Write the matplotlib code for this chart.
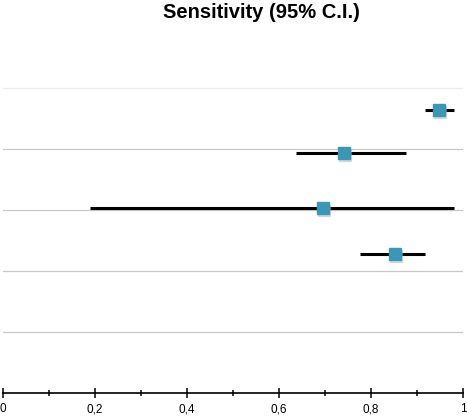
import numpy as np
import matplotlib.pyplot as plt
from matplotlib.ticker import FixedLocator, MultipleLocator

# sensitivity estimates with 95% confidence interval
sens = [0.948, 0.742, 0.695, 0.852]
ci_low = [0.918, 0.637, 0.189, 0.775]
ci_high = [0.980, 0.877, 0.981, 0.917]
row_y = [4.64, 3.93, 3.03, 2.28]
grid_y = [1, 2, 3, 4, 5]
ticks = [0, 0.2, 0.4, 0.6, 0.8, 1.0]
tick_labels = ["0", "0,2", "0,4", "0,6", "0,8", "1"]

plt.rcParams['font.family'] = ['Liberation Sans', 'DejaVu Sans']

fig = plt.figure(figsize=(4.67, 4.18), dpi=100)
ax = fig.add_axes([3 / 467, 25 / 418, 460 / 467, 348 / 418])

for g in grid_y:
    c = '#ececec' if g == 5 else '#c8c8c8'
    ax.axhline(g, color=c, lw=0.9, zorder=1)

sens = np.array(sens)
ax.hlines(row_y, ci_low, ci_high, color='black', lw=2.2, zorder=2)
# faint shadow under the markers
ax.plot(sens + 0.002, np.array(row_y) - 0.03, 's', ms=8.5, color='#b0b0b0',
        alpha=0.4, zorder=3, linestyle='none')
ax.plot(sens, row_y, 's', ms=8.5, color='#3b97b6', zorder=4, linestyle='none')

ax.set_xlim(0, 1)
ax.set_ylim(0, 348 / 61)
for s in ['left', 'right', 'top']:
    ax.spines[s].set_visible(False)
ax.spines['bottom'].set_linewidth(1.2)
ax.set_yticks([])
ax.xaxis.set_major_locator(FixedLocator(ticks))
ax.set_xticklabels(tick_labels, fontsize=8.5)
ax.xaxis.set_minor_locator(MultipleLocator(0.1))
ax.tick_params(axis='x', which='major', direction='inout', length=7, width=1.1, pad=4)
ax.tick_params(axis='x', which='minor', direction='inout', length=5, width=1.1)

fig.text(261 / 467, 1 - 13 / 418, "Sensitivity (95% C.I.)", ha='center', va='center',
         fontsize=14.5, fontweight='bold')

fig.savefig('out.png', dpi=100)
